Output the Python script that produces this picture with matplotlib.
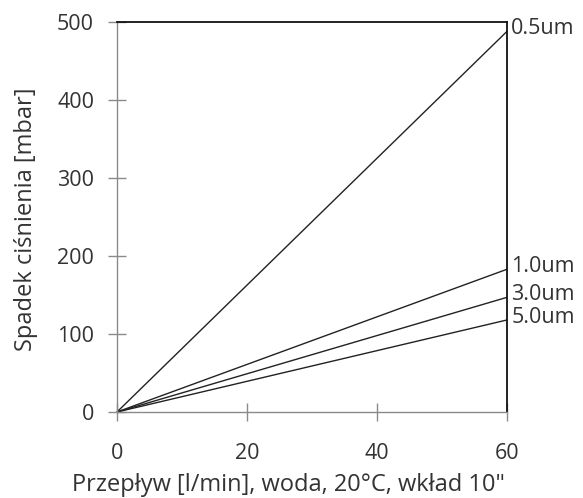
import matplotlib
matplotlib.use("Agg")
import matplotlib.pyplot as plt

flow = [0, 60]
series_names = ["0.5um", "1.0um", "3.0um", "5.0um"]
series_values = [[0, 488], [0, 183], [0, 147], [0, 118]]
x_ticks = [0, 20, 40, 60]
y_ticks = [0, 100, 200, 300, 400, 500]

plt.rcParams['font.family'] = ['Open Sans', 'DejaVu Sans']
txt = '#333333'
grey = '#8a8a8a'

fig = plt.figure(figsize=(5.83, 4.98), dpi=100)
ax = fig.add_axes([117/583, 86/498, 390/583, 390/498])

for name, vals in zip(series_names, series_values):
    ax.plot(flow, vals, color='#222222', lw=1.0, solid_capstyle='butt', clip_on=False)
    ax.annotate(name, xy=(flow[-1], vals[-1]), xytext=(3, 2), textcoords='offset points',
                ha='left', va='center', fontsize=15.5, color=txt, annotation_clip=False)

ax.set_xlim(0, 60)
ax.set_ylim(0, 500)
ax.set_xticks(x_ticks)
ax.set_yticks(y_ticks)

for s in ['left', 'bottom']:
    ax.spines[s].set_color(grey)
    ax.spines[s].set_linewidth(1.0)
for s in ['top', 'right']:
    ax.spines[s].set_color('#111111')
    ax.spines[s].set_linewidth(1.3)

ax.tick_params(axis='both', direction='inout', length=13, width=1.0, color=grey,
               labelsize=15.5, labelcolor=txt)
ax.tick_params(axis='x', pad=16)
ax.tick_params(axis='y', pad=10)

fig.text(288/583, 1 - 485/498, 'Przepływ [l/min], woda, 20°C, wkład 10"', fontsize=17,
         color=txt, ha='center', va='center')
fig.text(26/583, 1 - 219/498, 'Spadek ciśnienia [mbar]', fontsize=17, color=txt,
         ha='center', va='center', rotation=90, rotation_mode='anchor')

fig.savefig('out.png', dpi=100, facecolor='white')
